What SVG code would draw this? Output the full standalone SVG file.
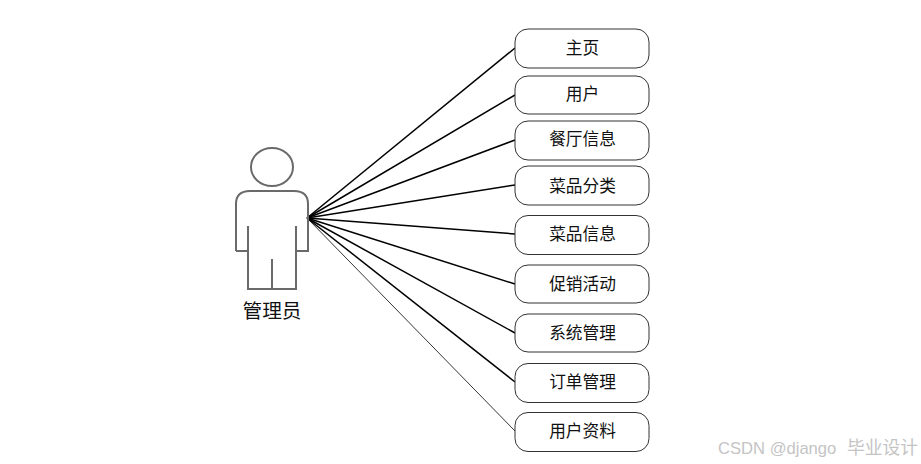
<svg xmlns="http://www.w3.org/2000/svg" width="921" height="464" viewBox="0 0 921 464">
<style>
.n rect{fill:#fff;stroke:#333;stroke-width:1}
.n text{font:16.7px "Noto Sans CJK SC","Liberation Sans",sans-serif;fill:#111;text-anchor:middle}
#connectors line{stroke:#000;stroke-width:1.5}
#actor path,#actor ellipse{fill:none;stroke:#6a6a6a;stroke-width:2}
</style>
<rect width="921" height="464" fill="#fff"/>
<g id="connectors">
<line x1="307" y1="218" x2="515" y2="48"/>
<line x1="307" y1="218" x2="515" y2="95"/>
<line x1="307" y1="218" x2="515" y2="140"/>
<line x1="307" y1="218" x2="515" y2="185"/>
<line x1="307" y1="218" x2="515" y2="234"/>
<line x1="307" y1="218" x2="515" y2="284"/>
<line x1="307" y1="218" x2="515" y2="333"/>
<line x1="307" y1="218" x2="515" y2="382"/>
<line x1="307" y1="218" x2="515" y2="431" style="stroke-width:.8"/>
</g>
<g id="actor">
<ellipse cx="272" cy="167" rx="21" ry="19"/>
<path d="M236 251V204Q236 191 250 191H294Q308 191 308 204V251H296M236 251H248M248 226V289H296V226M272 259V289"/>
<text x="272" y="318" style="font:19.700px 'Noto Sans CJK SC',sans-serif;fill:#111;text-anchor:middle">管理员</text>
</g>
<g id="n1" class="n"><rect x="515" y="29" width="134" height="39" rx="13"/><text x="582.500" y="53.500">主页</text></g>
<g id="n2" class="n"><rect x="515" y="76" width="134" height="38" rx="13"/><text x="582.500" y="100">用户</text></g>
<g id="n3" class="n"><rect x="515" y="121" width="134" height="39" rx="13"/><text x="582.500" y="145">餐厅信息</text></g>
<g id="n4" class="n"><rect x="515" y="166" width="134" height="39" rx="13"/><text x="582.500" y="191.500">菜品分类</text></g>
<g id="n5" class="n"><rect x="515" y="215.500" width="134" height="39" rx="13"/><text x="582.500" y="240">菜品信息</text></g>
<g id="n6" class="n"><rect x="515" y="265" width="134" height="38" rx="13"/><text x="582.500" y="289.500">促销活动</text></g>
<g id="n7" class="n"><rect x="515" y="314" width="134" height="38" rx="13"/><text x="582.500" y="338.500">系统管理</text></g>
<g id="n8" class="n"><rect x="515" y="363.500" width="134" height="39" rx="13"/><text x="582.500" y="388">订单管理</text></g>
<g id="n9" class="n"><rect x="515" y="412.500" width="134" height="39" rx="13"/><text x="582.500" y="437">用户资料</text></g>
<text y="454" style="font:16.600px 'Liberation Sans','Noto Sans CJK SC',sans-serif;fill:#c4c4c4"><tspan x="718">CSDN @django</tspan><tspan x="847" style="font-size:17.800px">毕业设计</tspan></text>
</svg>
